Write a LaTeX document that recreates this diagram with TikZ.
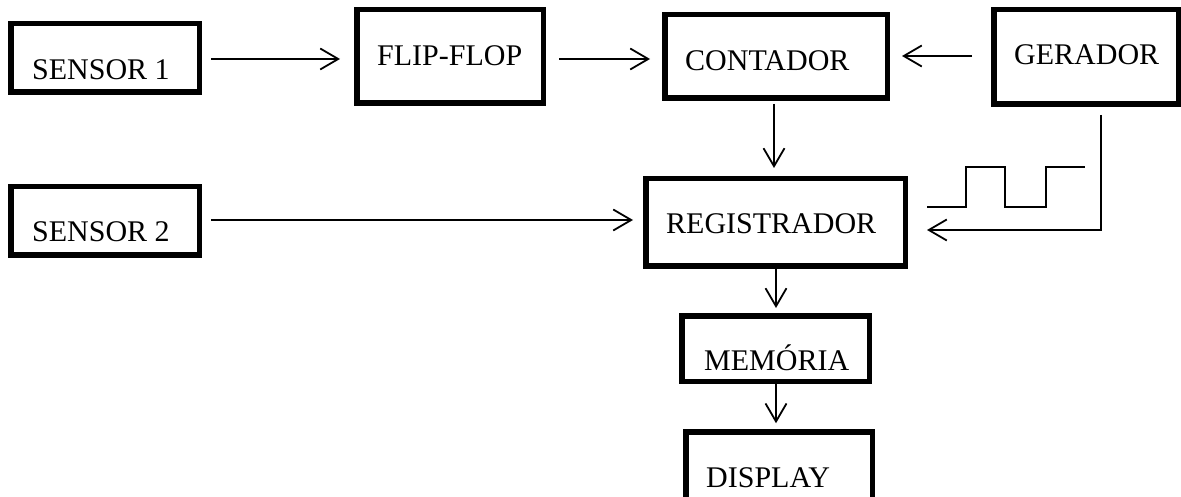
\documentclass[tikz,border=0pt]{standalone}
\usepackage{fontspec}
\setmainfont{Liberation Serif}
\usetikzlibrary{arrows.meta,calc}
\begin{document}
\begin{tikzpicture}[x=1pt,y=-1pt,
  blk/.style={draw=black,line width=5.5pt,inner sep=0pt,rectangle},
  lbl/.style={anchor=base west,inner sep=0pt,font=\fontsize{30}{35}\selectfont},
  arr/.style={line width=1.8pt,-{Straight Barb[length=18pt,width=21pt,line width=1.8pt]}},
  thin/.style={line width=1.8pt}]
\useasboundingbox (0,0) rectangle (1181,497);
\clip (0,0) rectangle (1181,497);
% boxes (outer extents measured, node sizes = outer - line width)
\node[blk,minimum width=188.5pt,minimum height=68.5pt] (s1) at (105,58) {};
\node[blk,minimum width=188.5pt,minimum height=68.5pt] (s2) at (105,221) {};
\node[blk,minimum width=186.5pt,minimum height=93.5pt] (ff) at (450,56.5) {};
\node[blk,minimum width=222.5pt,minimum height=83.5pt] (cont) at (776,56.5) {};
\node[blk,minimum width=184.5pt,minimum height=94.5pt] (ger) at (1086,57) {};
\node[blk,minimum width=259.5pt,minimum height=87.5pt] (reg) at (775.5,222.5) {};
\node[blk,minimum width=187.5pt,minimum height=65.5pt] (mem) at (775.5,348.5) {};
\node[blk,minimum width=186.5pt,minimum height=110pt] (disp) at (779,487) {};
% labels
\node[lbl] (s1t) at (32,80) {SENSOR 1};
\node[lbl] (s2t) at (32,242) {SENSOR 2};
\node[lbl] (fft) at (377,66) {FLIP-FLOP};
\node[lbl] (contt) at (685,71) {CONTADOR};
\node[lbl] (gert) at (1014,65) {GERADOR};
\node[lbl] (regt) at (666,234) {REGISTRADOR};
\node[lbl] (memt) at (704,370) {MEMÓRIA};
\node[lbl] (dispt) at (706,487) {DISPLAY};
% connectors
\coordinate (a1) at ([shift={(9,1)}]s1.east);
\draw[arr,shorten >=14pt] (a1) -- (a1 -| ff.west);
\coordinate (a2) at ([shift={(13,2.5)}]ff.east);
\draw[arr,shorten >=12pt] (a2) -- (a2 -| cont.west);
\coordinate (a3) at ([shift={(-19,-1)}]ger.west);
\draw[arr,shorten >=12pt] (a3) -- (a3 -| cont.east);
\coordinate (a4) at ([shift={(-2,3)}]cont.south);
\draw[arr,shorten >=8pt] (a4) -- (a4 |- reg.north);
\coordinate (a5) at ([shift={(9,-1)}]s2.east);
\draw[arr,shorten >=10pt] (a5) -- (a5 -| reg.west);
\coordinate (a6) at ([shift={(0.5,0)}]reg.south);
\draw[arr,shorten >=5pt] (a6) -- (a6 |- mem.north);
\coordinate (a7) at ([shift={(0.5,0)}]mem.south);
\draw[arr,shorten >=6pt] (a7) -- (a7 |- disp.north);
\coordinate (g1) at ([shift={(15,8)}]ger.south);
\coordinate (g2) at ($(g1)+(0,115)$);
\draw[arr,shorten >=19pt] (g1) -- (g2) -- (g2 -| reg.east);
% clock waveform
\draw[thin] (927,207) -- (966,207) -- (966,167) -- (1005,167) -- (1005,207)
  -- (1046,207) -- (1046,167) -- (1085,167);
\end{tikzpicture}
\end{document}
